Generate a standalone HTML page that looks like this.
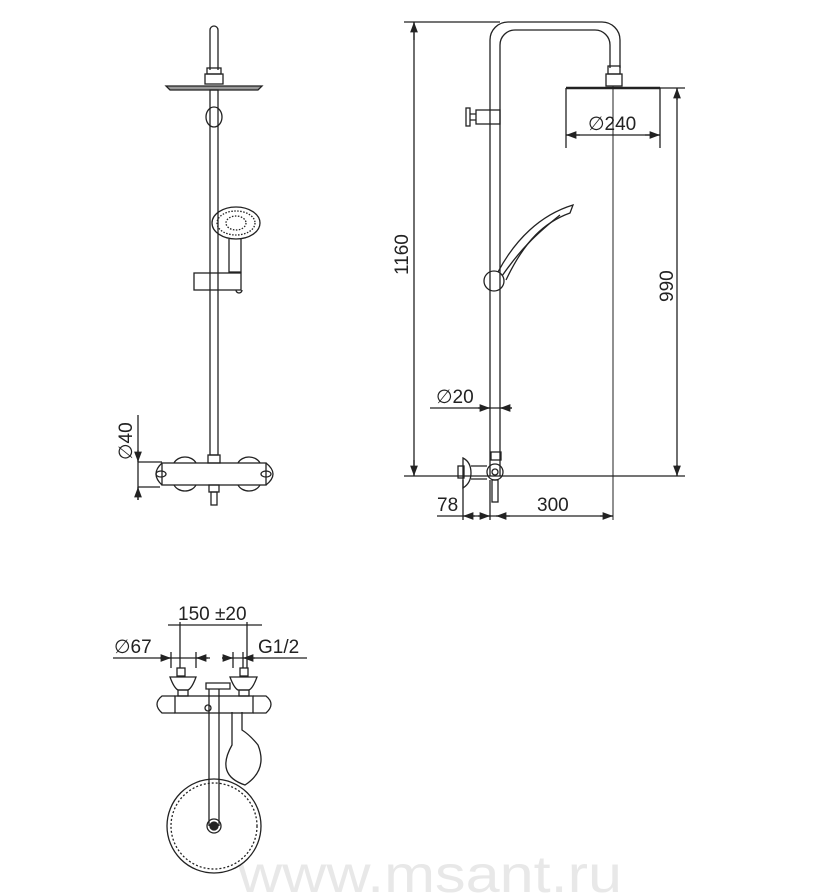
<!DOCTYPE html>
<html><head><meta charset="utf-8"><style>
html,body{margin:0;padding:0;background:#fff;}
svg{display:block;}
text{font-family:"Liberation Sans",sans-serif;fill:#222;}
</style></head><body>
<svg width="825" height="895" viewBox="0 0 825 895" xmlns="http://www.w3.org/2000/svg">
<defs>
<marker id="a" markerWidth="8" markerHeight="6" refX="8" refY="3" orient="auto-start-reverse"><path d="M0,0 L8,3 L0,6" fill="#222"/></marker>
</defs>
<text x="238" y="892" font-size="52" style="fill:#e8e8e8" textLength="384" lengthAdjust="spacingAndGlyphs">www.msant.ru</text>
<g fill="none" stroke="#222" stroke-width="1.3">
<!-- LEFT VIEW -->
<path d="M210,70 V30 a4,4 0 0 1 8,0 V70"/>
<rect x="207" y="68" width="14" height="6"/>
<rect x="205" y="74" width="18" height="10"/>
<path d="M166,86 H262 L258,90 H170 Z" fill="#999"/>
<rect x="210" y="90" width="8" height="365"/>
<ellipse cx="214" cy="117" rx="8" ry="10"/>
<ellipse cx="236" cy="223" rx="24" ry="16"/>
<ellipse cx="236" cy="223" rx="19" ry="12" stroke-dasharray="1.5,1.5"/>
<ellipse cx="236" cy="223" rx="10" ry="7" stroke-dasharray="1.5,1.5"/>
<path d="M229,239 V272 H241 V239"/>
<rect x="194" y="273" width="47" height="17"/>
<path d="M236,290 a3,3 0 0 0 6,0"/>
<rect x="208" y="455" width="12" height="8"/>
<rect x="162" y="463" width="104" height="22"/>
<path d="M174,463 a12,10 0 0 1 22,0 M174,485 a12,10 0 0 0 22,0 M238,463 a12,10 0 0 1 22,0 M238,485 a12,10 0 0 0 22,0"/>
<path d="M162,463 Q150,474 162,485 M266,463 Q280,474 266,485"/>
<ellipse cx="161" cy="474" rx="5" ry="3"/><ellipse cx="266" cy="474" rx="5" ry="3"/>
<rect x="209" y="485" width="10" height="7"/>
<rect x="211" y="492" width="6" height="13"/>
<path d="M138,415 V500 M138,462 H162 M138,487 H160"/>
<path d="M138,450 V462" marker-end="url(#a)"/><path d="M138,500 V487" marker-end="url(#a)"/>
<!-- RIGHT VIEW -->
<path d="M490,476 V40 a18,18 0 0 1 18,-18 H602 a18,18 0 0 1 18,18 V68"/>
<path d="M500,476 V45 a15,15 0 0 1 15,-15 H595 a15,15 0 0 1 15,15 V68"/>
<rect x="608" y="66" width="12" height="8"/>
<rect x="606" y="74" width="16" height="12"/>
<path d="M566,88 H660 V133 M566,88 V133" />
<path d="M566,88 H660" stroke-width="2.5"/>
<rect x="476" y="110" width="24" height="14"/>
<rect x="466" y="108" width="4" height="18"/>
<path d="M470,114 H476 M470,120 H476"/>
<circle cx="494" cy="281" r="10"/>
<path d="M498,272 C515,240 540,215 573,205 L570,213 C545,222 525,240 506,280"/>
<path d="M502,276 C520,250 535,235 560,215"/>
<rect x="491" y="452" width="10" height="8"/>
<circle cx="495" cy="472" r="8"/><circle cx="495" cy="472" r="3"/>
<path d="M463,458 q8,4 8,15 q0,10 -8,15 Z"/>
<rect x="458" y="466" width="6" height="12"/>
<path d="M471,466 H487 M471,479 H487"/>
<rect x="492" y="480" width="6" height="22"/>
<!-- dims right -->
<path d="M404,22 H500 M404,476 H685 M414,22 V476"/>
<path d="M414,40 V22" marker-end="url(#a)"/><path d="M414,460 V476" marker-end="url(#a)"/>
<path d="M660,88 H685 M677,88 V476"/>
<path d="M677,100 V88" marker-end="url(#a)"/><path d="M677,465 V476" marker-end="url(#a)"/>
<path d="M566,133 V148 M660,133 V148 M566,135 H660"/>
<path d="M580,135 H566" marker-end="url(#a)"/><path d="M645,135 H660" marker-end="url(#a)"/>
<path d="M613,86 V520" stroke-width="1"/>
<path d="M430,408 H512"/>
<path d="M478,408 H490" marker-end="url(#a)"/><path d="M512,408 H500" marker-end="url(#a)"/>
<path d="M437,516 H613 M463,480 V520 M490,480 V520"/>
<path d="M475,516 H463" marker-end="url(#a)"/><path d="M478,516 H490" marker-end="url(#a)"/>
<path d="M510,516 H496" marker-end="url(#a)"/><path d="M600,516 H613" marker-end="url(#a)"/>
<!-- BOTTOM VIEW -->
<path d="M168,625 H262 M180,622 V668 M247,622 V668"/>
<path d="M113,658 H210 M222,658 H307 M171,652 V668 M196,652 V668 M233,652 V668 M243,652 V668"/>
<path d="M160,658 H171" marker-end="url(#a)"/><path d="M208,658 H196" marker-end="url(#a)"/>
<path d="M222,658 H233" marker-end="url(#a)"/><path d="M255,658 H243" marker-end="url(#a)"/>
<rect x="177" y="668" width="8" height="8"/><rect x="240" y="668" width="8" height="8"/>
<path d="M170,677 H196 Q192,688 188,690 H178 Q174,688 170,677Z"/>
<path d="M230,677 H257 Q253,688 249,690 H238 Q234,688 230,677Z"/>
<rect x="178" y="690" width="10" height="6"/><rect x="239" y="690" width="10" height="6"/>
<rect x="175" y="696" width="78" height="17"/>
<path d="M175,696 H162 Q152,704 162,713 H175 M253,696 H266 Q276,704 266,713 H253"/>
<path d="M206,683 H230 V689 H206 Z"/>
<path d="M209,689 V826 M219,689 V826"/>
<circle cx="208" cy="708" r="3"/>
<circle cx="214" cy="826" r="47"/>
<circle cx="214" cy="826" r="43" stroke-dasharray="2,2"/>
<circle cx="214" cy="826" r="7"/><circle cx="214" cy="826" r="4" fill="#222"/>
<path d="M232,712 V745 Q215,775 245,785 Q268,770 258,745 Q250,735 242,730 V712"/>
</g>
<g font-size="19">
<text x="0" y="0" transform="translate(132,460) rotate(-90)">∅40</text>
<text x="0" y="0" transform="translate(408,275) rotate(-90)">1160</text>
<text x="0" y="0" transform="translate(673,302) rotate(-90)">990</text>
<text x="588" y="130">∅240</text>
<text x="436" y="403">∅20</text>
<text x="437" y="511">78</text>
<text x="537" y="511">300</text>
<text x="178" y="620">150 ±20</text>
<text x="114" y="653">∅67</text>
<text x="258" y="653">G1/2</text>
</g>
</svg>
</body></html>
